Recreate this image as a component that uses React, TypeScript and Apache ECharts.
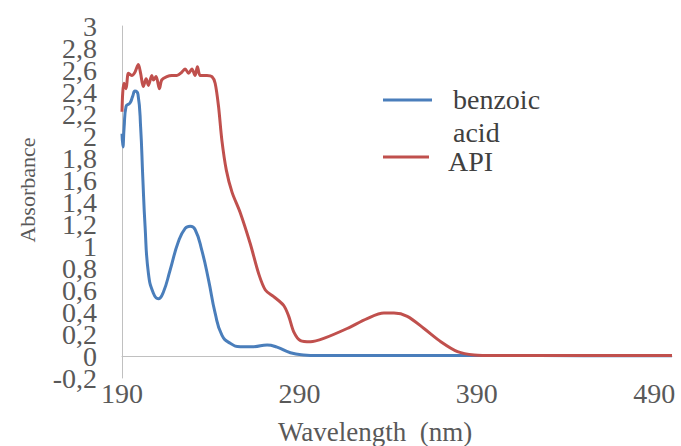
import React, { useEffect, useRef } from 'react';
import * as echarts from 'echarts';

const benzoicWavelength = [190, 190.5, 191.2, 192.3, 194.5, 196, 197.3, 199, 200.5, 201.7, 203, 204.9, 207.7, 210.5, 213.3, 217.1, 221.8, 225.6, 228.4, 231.2, 235, 238.8, 242.5, 246.3, 251, 256.7, 264.2, 271.8, 277.4, 284.9, 292.3, 300, 350, 400, 450, 500];
const benzoicAbsorbance = [2.02, 1.9, 2.08, 2.27, 2.3, 2.36, 2.41, 2.38, 2.08, 1.63, 1.18, 0.75, 0.57, 0.52, 0.58, 0.78, 1.04, 1.16, 1.18, 1.15, 0.96, 0.69, 0.39, 0.19, 0.115, 0.085, 0.085, 0.1, 0.08, 0.03, 0.01, 0.005, 0.005, 0.005, 0.003, 0.003];

const apiWavelength = [190, 190.4, 191.1, 192.3, 193.6, 195.5, 197.3, 199.2, 200.5, 202, 203.6, 204.9, 206.8, 207.7, 209.2, 211.1, 212.4, 215.3, 218.1, 220.9, 223.7, 225.6, 227.5, 229.4, 231.2, 232.5, 234.1, 237.9, 240.7, 242.5, 244.4, 246.3, 248.8, 252, 256.7, 262.3, 267, 270.8, 275.5, 281.1, 284, 286.8, 290.6, 296.2, 303.7, 316.9, 328.2, 337.6, 343.3, 350.8, 360.2, 369.7, 379.1, 388.5, 400, 450, 500];
const apiAbsorbance = [2.22, 2.39, 2.48, 2.43, 2.57, 2.55, 2.58, 2.65, 2.57, 2.45, 2.52, 2.46, 2.55, 2.51, 2.54, 2.43, 2.51, 2.54, 2.55, 2.55, 2.58, 2.61, 2.57, 2.61, 2.55, 2.63, 2.55, 2.55, 2.54, 2.48, 2.27, 1.96, 1.69, 1.49, 1.3, 1.02, 0.75, 0.6, 0.54, 0.46, 0.36, 0.22, 0.14, 0.13, 0.16, 0.25, 0.34, 0.39, 0.39, 0.36, 0.25, 0.13, 0.04, 0.01, 0.005, 0.005, 0.005];

const xTickValues = [190, 290, 390, 490];
const yTickValuesA = [-0.2, 0.2, 0.6, 1, 1.4, 1.8, 2.2, 2.6, 3];
const yTickValuesB = [0, 0.4, 0.8, 1.2, 1.6, 2, 2.4, 2.8];
const seriesNames = ['benzoic acid', 'API'];
const legendLines = [['benzoic', 'acid'], ['API']];

const zip = (xs: number[], ys: number[]) => xs.map((x, i) => [x, ys[i]]);

export default function App() {
  const ref = useRef<HTMLDivElement>(null);
  useEffect(() => {
    document.body.style.margin = '0';
    const chart = echarts.init(ref.current as HTMLDivElement, null, { renderer: 'svg' });
    const font = 'Liberation Serif';
    const blue = '#4a7ebb';
    const red = '#c0504d';
    const yLabel = (values: number[]) => ({
      customValues: values,
      margin: 25,
      fontSize: 28,
      color: '#595959',
      fontFamily: font,
      formatter: (v: number) => String(Math.round(v * 10) / 10).replace('.', ','),
    });
    chart.setOption({
      animation: false,
      textStyle: { fontFamily: font },
      grid: { left: 122, right: 9, top: 26, bottom: 68 },
      xAxis: [
        {
          type: 'value',
          min: 190,
          max: 500,
          position: 'bottom',
          axisLine: { show: false, onZero: false },
          axisTick: { show: false },
          splitLine: { show: false },
          axisLabel: {
            customValues: xTickValues,
            margin: 1,
            fontSize: 28,
            color: '#595959',
            fontFamily: font,
          },
        },
        {
          type: 'value',
          min: 190,
          max: 500,
          position: 'top',
          axisLine: { show: true, onZero: true, lineStyle: { color: '#c0c0c0', width: 1 } },
          axisTick: { show: false },
          splitLine: { show: false },
          axisLabel: { show: false },
        },
      ],
      yAxis: [
        {
          type: 'value',
          min: -0.2,
          max: 3,
          position: 'left',
          axisLine: { show: true, onZero: false, lineStyle: { color: '#c0c0c0', width: 1 } },
          axisTick: { show: false },
          splitLine: { show: false },
          axisLabel: yLabel(yTickValuesA),
        },
        {
          type: 'value',
          min: -0.2,
          max: 3,
          position: 'left',
          offset: 0,
          axisLine: { show: false, onZero: false },
          axisTick: { show: false },
          splitLine: { show: false },
          axisLabel: yLabel(yTickValuesB),
        },
      ],
      series: [
        {
          name: seriesNames[0],
          type: 'line',
          xAxisIndex: 0,
          yAxisIndex: 0,
          data: zip(benzoicWavelength, benzoicAbsorbance),
          showSymbol: false,
          smooth: 0.5,
          lineStyle: { color: blue, width: 3 },
          itemStyle: { color: blue },
        },
        {
          name: seriesNames[1],
          type: 'line',
          xAxisIndex: 0,
          yAxisIndex: 0,
          data: zip(apiWavelength, apiAbsorbance),
          showSymbol: false,
          smooth: 0.3,
          lineStyle: { color: red, width: 3 },
          itemStyle: { color: red },
        },
      ],
      graphic: [
        {
          type: 'text',
          x: 27,
          y: 190,
          rotation: Math.PI / 2,
          style: { text: 'Absorbance', fontSize: 22, fontFamily: font, fill: '#595959', align: 'center', verticalAlign: 'middle' },
        },
        {
          type: 'text',
          x: 375,
          y: 432,
          style: { text: 'Wavelength  (nm)', fontSize: 27, fontFamily: font, fill: '#595959', align: 'center', verticalAlign: 'middle' },
        },
        { type: 'line', shape: { x1: 383, y1: 100, x2: 432, y2: 100 }, style: { stroke: blue, lineWidth: 3 } },
        { type: 'line', shape: { x1: 383, y1: 157, x2: 429, y2: 157 }, style: { stroke: red, lineWidth: 3 } },
        { type: 'text', x: 453, y: 99, style: { text: legendLines[0][0], fontSize: 28, fontFamily: font, fill: '#404040', align: 'left', verticalAlign: 'middle' } },
        { type: 'text', x: 453, y: 132, style: { text: legendLines[0][1], fontSize: 28, fontFamily: font, fill: '#404040', align: 'left', verticalAlign: 'middle' } },
        { type: 'text', x: 448, y: 161, style: { text: legendLines[1][0], fontSize: 28, fontFamily: font, fill: '#404040', align: 'left', verticalAlign: 'middle' } },
      ],
    });
    return () => chart.dispose();
  }, []);
  return <div ref={ref} style={{ width: 681, height: 446 }} />;
}
